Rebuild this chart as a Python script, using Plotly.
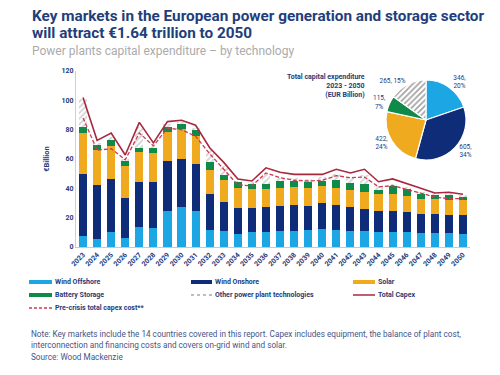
import plotly.graph_objects as go

years = [str(y) for y in range(2023, 2051)]
wind_offshore = [7.3, 5.5, 10, 6, 13.6, 12.7, 24.5, 27.3, 24.5, 11.8, 11, 9, 10, 10, 11, 11, 11.4, 12.3, 11.4, 11, 11, 10.5, 10.5, 10, 9.5, 9.5, 9.5, 9]
wind_onshore = [42.7, 36.5, 36.4, 27.6, 30.4, 31.3, 34.1, 32.7, 31.9, 24.6, 20, 17.4, 16.4, 17.3, 17, 17.6, 16.6, 17.7, 17.2, 16.3, 15, 14, 14, 13.6, 12.8, 12.8, 12.3, 12.8]
solar = [28, 24, 22.6, 21.9, 20.5, 20, 20, 20.5, 19.6, 16.3, 14.5, 13.6, 13.1, 12.2, 12.5, 12.4, 12, 11.4, 11.4, 11.7, 11.7, 11.5, 11.9, 11.4, 10.7, 10.4, 10.5, 10]
battery = [4, 3.5, 3.7, 2.9, 3.2, 3.7, 3.7, 3.5, 3.5, 5.3, 3.5, 4.5, 3.5, 3.5, 4.5, 4, 4, 3.6, 6, 4.6, 5, 3, 5.4, 4.5, 3.8, 2.8, 3.2, 2.7]
other = [19, 1.5, 2.3, 1.6, 14.3, 1.3, 1.3, 1, 1.9, 8, 6, 0.5, 1, 7, 2, 2, 2.4, 2.7, 4, 4.1, 6.3, 2.4, 1.2, 1.5, 0.9, 0.9, 0.9, 0.5]
total_capex = [102, 72.7, 77.7, 62.7, 85, 71, 85.5, 86.4, 83, 67.7, 57.7, 46.4, 45, 54, 51, 49.5, 49.5, 49.5, 53, 50.5, 53, 44.5, 46.4, 43, 40, 36.8, 37.3, 36]
pre_crisis = [88, 66, 67, 59.5, 77.7, 69, 81, 80, 75.5, 63.6, 53, 42.3, 41.8, 50.5, 47.3, 45.5, 45, 45.5, 48.6, 47.3, 47.7, 41, 41.8, 39.5, 36.8, 34, 33, 33]

pie_labels = ["Wind Offshore", "Wind Onshore", "Solar", "Battery Storage", "Other power plant technologies"]
pie_values = [346, 605, 422, 115, 265]
pie_pct = [20, 34, 24, 7, 15]

C_OFF = "#1CA6E4"
C_ON = "#0E2C78"
C_SOL = "#EFAA1F"
C_BAT = "#108A48"
C_OTH = "#A0A0A0"
C_TOT = "#A8283E"
C_PRE = "#CC3A55"
NAVY = "#1F3A78"

# the page body adds an 8px offset; positions below are given in screen pixels
OFF = 8
L, R, T, B = 76 - OFF, 470 - OFF, 71 - OFF, 247 - OFF
W, H = 500, 375


def px(x):
    return (x - OFF - L) / (R - L)


def py(y):
    return (B - (y - OFF)) / (B - T)


fig = go.Figure()
bar_series = [
    ("Wind Offshore", wind_offshore, C_OFF),
    ("Wind Onshore", wind_onshore, C_ON),
    ("Solar", solar, C_SOL),
    ("Battery Storage", battery, C_BAT),
]
for name, vals, col in bar_series:
    fig.add_trace(go.Bar(x=years, y=vals, name=name, marker=dict(color=col, line_width=0)))
fig.add_trace(go.Bar(x=years, y=other, name="Other power plant technologies",
                     marker=dict(color="white", line_width=0,
                                 pattern=dict(shape="/", fgcolor=C_OTH, bgcolor="white", size=4, solidity=0.4))))
fig.add_trace(go.Scatter(x=years, y=total_capex, mode="lines", name="Total Capex",
                         line=dict(color=C_TOT, width=1.6)))
fig.add_trace(go.Scatter(x=years, y=pre_crisis, mode="lines", name="Pre-crisis total capex cost**",
                         line=dict(color=C_PRE, width=1.3, dash="4px,2px")))

fig.add_trace(go.Pie(
    labels=pie_labels, values=pie_values, sort=False, direction="clockwise", rotation=0,
    text=[f"{v},<br>{p}%" if i < 4 else f"{v}, {p}%" for i, (v, p) in enumerate(zip(pie_values, pie_pct))],
    textinfo="text", textposition="outside", textfont=dict(size=6.5, color=NAVY, family="Roboto"),
    marker=dict(colors=[C_OFF, C_ON, C_SOL, C_BAT, "white"], line=dict(color="white", width=1.2),
                pattern=dict(shape=["", "", "", "", "/"], fgcolor=C_OTH, bgcolor="white", size=4, solidity=0.4)),
    domain=dict(x=[px(386), px(466)], y=[py(160), py(80)]), hoverinfo="label+value",
))

TICK_FONT = dict(size=7, color=NAVY, family="Roboto", weight="bold")
fig.update_layout(
    width=W, height=H, barmode="stack", bargap=0.42, showlegend=False,
    paper_bgcolor="white", plot_bgcolor="white",
    margin=dict(l=L, r=W - R, t=T, b=H - B, autoexpand=False),
    font=dict(family="Roboto", color=NAVY, size=7),
    xaxis=dict(type="category", tickangle=-45, showline=True, linecolor="#C8C8C8", linewidth=1,
               ticks="", tickfont=TICK_FONT, showgrid=False, automargin=False),
    yaxis=dict(range=[0, 120], dtick=20, showline=True, linecolor="#D0D0D0", linewidth=1,
               showgrid=False, ticks="", tickfont=TICK_FONT, automargin=False,
               title=dict(text="<b>€Billion</b>", font=dict(size=7.5, color=NAVY), standoff=10), zeroline=False),
)

# title & subtitle
TITLE_FONT = dict(size=15.3, color="#1F3E7A", family="Roboto")
fig.add_annotation(xref="paper", yref="paper", x=px(30), y=py(16), xanchor="left", yanchor="middle",
                   text="<b>Key markets in the European power generation and storage sector</b>",
                   showarrow=False, font=TITLE_FONT)
fig.add_annotation(xref="paper", yref="paper", x=px(30), y=py(33), xanchor="left", yanchor="middle",
                   text="<b>will attract €1.64 trillion to 2050</b>",
                   showarrow=False, font=TITLE_FONT)
fig.add_annotation(xref="paper", yref="paper", x=px(30), y=py(51), xanchor="left", yanchor="middle",
                   text="Power plants capital expenditure – by technology", showarrow=False,
                   font=dict(size=12, color="#ABABAB", family="Roboto"))
# pie caption
fig.add_annotation(xref="paper", yref="paper", x=px(367), y=py(71), xanchor="right", yanchor="top", align="right",
                   text="<b>Total capital expenditure<br>2023 - 2050<br>(EUR Billion)</b>", showarrow=False,
                   font=dict(size=7, color=NAVY, family="Roboto"))

# manual legend (3 columns)
legend_entries = [
    ("Wind Offshore", dict(color=C_OFF, width=4), 29, 52, 282),
    ("Wind Onshore", dict(color=C_ON, width=4), 191, 212, 282),
    ("Solar", dict(color=C_SOL, width=4), 353, 375, 282),
    ("Battery Storage", dict(color=C_BAT, width=4), 29, 52, 295),
    ("Other power plant technologies", dict(color="#BDBDBD", width=2, dash="dot"), 191, 212, 295),
    ("Total Capex", dict(color=C_TOT, width=1.5), 353, 375, 295),
    ("Pre-crisis total capex cost**", dict(color=C_PRE, width=1.3, dash="3px,2px"), 29, 52, 308),
]
for name, ln, x0, x1, yy in legend_entries:
    fig.add_shape(type="line", xref="paper", yref="paper", x0=px(x0), x1=px(x1), y0=py(yy), y1=py(yy), line=ln)
    fig.add_annotation(xref="paper", yref="paper", x=px(x1 + 1), y=py(yy), xanchor="left", yanchor="middle",
                       text=f"<b>{name}</b>", showarrow=False, font=dict(size=7, color=NAVY, family="Roboto"))

# notes
fig.add_annotation(xref="paper", yref="paper", x=px(29), y=py(327), xanchor="left", yanchor="top", align="left",
                   text="Note: Key markets include the 14 countries covered in this report. Capex includes equipment, the balance of plant cost,<br>interconnection and financing costs and covers on-grid wind and solar.",
                   showarrow=False, font=dict(size=8.2, color="#43558A", family="Roboto"))
fig.add_annotation(xref="paper", yref="paper", x=px(29), y=py(350), xanchor="left", yanchor="top", align="left",
                   text="Source: Wood Mackenzie", showarrow=False, font=dict(size=8.2, color="#43558A", family="Roboto"))

fig.write_html("out.html")
